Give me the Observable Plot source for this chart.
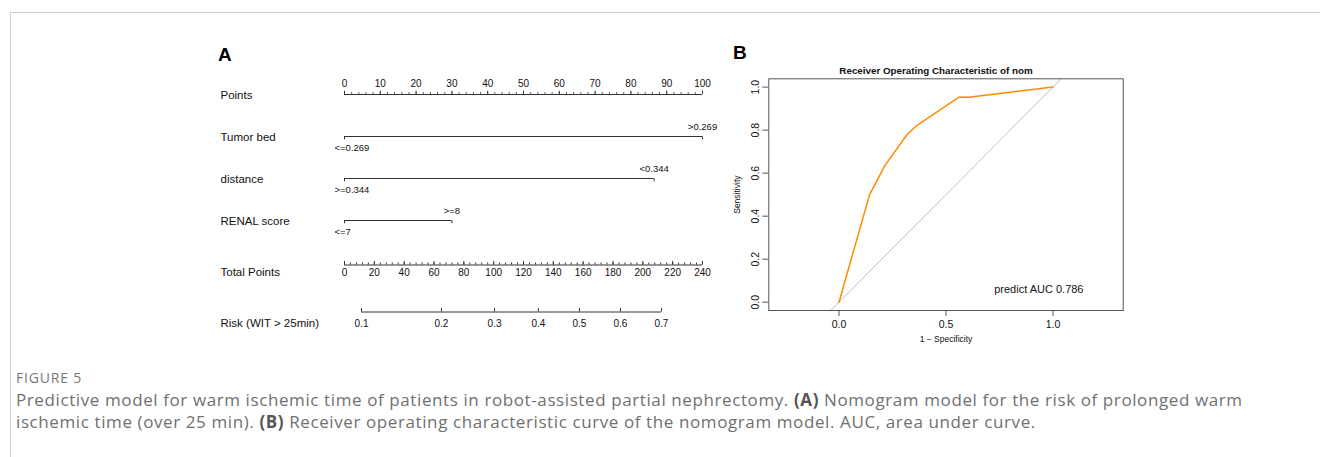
<!DOCTYPE html>
<html><head><meta charset="utf-8">
<script src="https://cdn.jsdelivr.net/npm/d3@7"></script>
<script src="https://cdn.jsdelivr.net/npm/@observablehq/plot@0.6"></script>
<style>
html,body{margin:0;padding:0;background:#fff}
body{width:1320px;height:457px;position:relative;overflow:hidden;font-family:"Liberation Sans",Arial,sans-serif}
.abs{position:absolute}
#ftop{left:10px;top:12px;width:1310px;height:1px;background:#cfcfcf}
#fleft{left:10px;top:12px;width:1px;height:445px;background:#cfcfcf}
.letter{font-weight:bold;font-size:19px;color:#000;line-height:20px}
#figlab{left:16px;top:370px;font-family:"Open Sans",sans-serif;font-size:14px;color:#777;letter-spacing:0.8px;line-height:16px}
#cap{left:16px;top:389px;font-family:"Open Sans",sans-serif;font-size:17px;color:#707070;line-height:22px;letter-spacing:0.6px;white-space:nowrap}
#cap b{color:#555}
</style></head><body>
<div id="ftop" class="abs"></div>
<div id="fleft" class="abs"></div>
<div class="abs letter" style="left:218px;top:45px">A</div>
<div class="abs letter" style="left:733px;top:43px">B</div>
<div id="a1" class="abs" style="left:200px;top:60px"></div>
<div id="a2" class="abs" style="left:200px;top:245px"></div>
<div id="b" class="abs" style="left:720px;top:55px"></div>
<div id="figlab" class="abs">FIGURE 5</div>
<div id="cap" class="abs">Predictive model for warm ischemic time of patients in robot-assisted partial nephrectomy. <b>(A)</b> Nomogram model for the risk of prolonged warm<br>ischemic time (over 25 min). <b>(B)</b> Receiver operating characteristic curve of the nomogram model. AUC, area under curve.</div>
<script>
// ---------- data ----------
const nomoRows = ["Points", "Tumor bed", "distance", "RENAL score"];
const pointTicks = [0, 10, 20, 30, 40, 50, 60, 70, 80, 90, 100];
const variables = ["Tumor bed", "distance", "RENAL score"];
const lowLevels = ["<=0.269", ">=0.344", "<=7"];
const highLevels = [">0.269", "<0.344", ">=8"];
const lowPoints = [0, 0, 0];
const highPoints = [100, 86.5, 30];
const totalRows = ["Total Points", "Risk (WIT > 25min)"];
const totalTicks = [0, 20, 40, 60, 80, 100, 120, 140, 160, 180, 200, 220, 240];
const riskLabels = ["0.1", "0.2", "0.3", "0.4", "0.5", "0.6", "0.7"];
const riskAtTotal = [11.4, 65, 100.6, 130, 157.5, 185, 212.5];
const fpr = [0, 0.143, 0.215, 0.315, 0.358, 0.561, 0.607, 1.0];
const tpr = [0, 0.5, 0.636, 0.775, 0.817, 0.953, 0.953, 1.0];
const rocYTicks = [0, 0.2, 0.4, 0.6, 0.8, 1.0];
const rocXTicks = [0, 0.5, 1.0];
const diagonal = [-0.1, 1.1];
const rocTitle = "Receiver Operating Characteristic of nom";
const aucLabel = "predict AUC 0.786";

// ---------- helpers ----------
const FONT = "Liberation Sans, Arial, sans-serif";
const INK = "#333";
const minor = (lo, hi, step) => d3.range(lo, hi + 1e-9, step);
// band scale whose band centres sit at c0 ... c1
function bandY(domain, c0, c1) {
  const bw = (c1 - c0) / (domain.length - 1);
  return {bw, scale: {type: "band", domain, range: [c0 - bw / 2, c1 + bw / 2], padding: 0, axis: null}};
}
const up = (bw, len) => ({insetTop: bw / 2 - len, insetBottom: bw / 2});
const down = (bw, len) => ({insetTop: bw / 2, insetBottom: bw / 2 - len});
const ML = 144, MR = 28;

// ---------- Panel A, part 1 ----------
const varData = variables.map((v, i) => ({v, lo: lowPoints[i], hi: highPoints[i], loL: lowLevels[i], hiL: highLevels[i]}));
const Y1 = bandY(nomoRows, 33.5, 161);
const a1 = Plot.plot({
  width: 530, height: 190, marginLeft: ML, marginRight: MR, marginTop: 0, marginBottom: 0,
  x: {domain: [pointTicks[0], pointTicks[pointTicks.length - 1]], axis: null},
  y: Y1.scale,
  style: {fontFamily: FONT, background: "transparent", color: "#111"},
  marks: [
    Plot.ruleY(["Points"], {y: d => d, x1: pointTicks[0], x2: pointTicks[pointTicks.length - 1], stroke: INK}),
    Plot.tickX(minor(0, 100, 2), {x: d => d, y: () => "Points", ...up(Y1.bw, 2), stroke: INK}),
    Plot.tickX(pointTicks, {x: d => d, y: () => "Points", ...up(Y1.bw, 3.5), stroke: INK}),
    Plot.text(pointTicks, {x: d => d, y: () => "Points", text: d => String(d), dy: -10.5, fontSize: 10}),
    Plot.ruleY(varData, {y: "v", x1: "lo", x2: "hi", stroke: INK}),
    Plot.tickX(varData, {x: "lo", y: "v", ...down(Y1.bw, 3.5), stroke: INK}),
    Plot.tickX(varData, {x: "hi", y: "v", ...down(Y1.bw, 3.5), stroke: INK}),
    Plot.text(varData, {x: "hi", y: "v", text: "hiL", dy: -10, fontSize: 9.5}),
    Plot.text(varData, {x: "lo", y: "v", text: "loL", dy: 11, dx: -10, textAnchor: "start", fontSize: 9.5}),
    Plot.text(nomoRows, {y: d => d, text: d => d, frameAnchor: "left", dx: -124, dy: 1, textAnchor: "start", fontSize: 11.5})
  ]
});
document.getElementById("a1").append(a1);

// ---------- Panel A, part 2 ----------
const riskData = riskLabels.map((r, i) => ({r, tp: riskAtTotal[i]}));
const RISK = totalRows[1], TOT = totalRows[0];
const Y2 = bandY(totalRows, 19.5, 66.5);
const a2 = Plot.plot({
  width: 530, height: 95, marginLeft: ML, marginRight: MR, marginTop: 0, marginBottom: 0,
  x: {domain: [totalTicks[0], totalTicks[totalTicks.length - 1]], axis: null},
  y: Y2.scale,
  style: {fontFamily: FONT, background: "transparent", color: "#111"},
  marks: [
    Plot.ruleY([TOT], {y: d => d, x1: totalTicks[0], x2: totalTicks[totalTicks.length - 1], stroke: INK}),
    Plot.tickX(minor(0, 240, 4), {x: d => d, y: () => TOT, ...up(Y2.bw, 2), stroke: INK}),
    Plot.tickX(totalTicks, {x: d => d, y: () => TOT, ...up(Y2.bw, 3.5), stroke: INK}),
    Plot.text(totalTicks, {x: d => d, y: () => TOT, text: d => String(d), dy: 8, fontSize: 10}),
    Plot.ruleY([RISK], {y: d => d, x1: riskAtTotal[0], x2: riskAtTotal[riskAtTotal.length - 1], stroke: INK}),
    Plot.tickX(riskData, {x: "tp", y: () => RISK, ...up(Y2.bw, 3.5), stroke: INK}),
    Plot.text(riskData, {x: "tp", y: () => RISK, text: "r", dy: 12, fontSize: 10}),
    Plot.text([TOT], {y: d => d, text: d => d, frameAnchor: "left", dx: -124, dy: 7.5, textAnchor: "start", fontSize: 11.5}),
    Plot.text([RISK], {y: d => d, text: d => d, frameAnchor: "left", dx: -124, dy: 11.5, textAnchor: "start", fontSize: 11.5})
  ]
});
document.getElementById("a2").append(a2);

// ---------- Panel B ----------
const roc = fpr.map((x, i) => ({x, y: tpr[i]}));
const b = Plot.plot({
  width: 420, height: 300, marginLeft: 48.3, marginRight: 17.3, marginTop: 23.3, marginBottom: 45,
  x: {domain: [-0.328, 1.328]},
  y: {domain: [-0.0386, 1.0386]},
  style: {fontFamily: FONT, background: "transparent", color: "#111"},
  marks: [
    Plot.line(diagonal, {x: d => d, y: d => d, stroke: "#bdbdbd", strokeWidth: 1, clip: true}),
    Plot.line(roc, {x: "x", y: "y", stroke: "#FF8C00", strokeWidth: 1.5}),
    Plot.frame({stroke: "#555"}),
    Plot.axisY(rocYTicks, {tickFormat: d => d.toFixed(1), tickRotate: -90, tickSize: 6, tickPadding: 4, textAnchor: "middle", lineAnchor: "bottom", fontSize: 10.5, label: null, stroke: "#555"}),
    Plot.axisX(rocXTicks, {tickFormat: d => d.toFixed(1), tickSize: 6, tickPadding: 4.5, fontSize: 10.5, label: null, stroke: "#555"}),
    Plot.text([rocTitle], {frameAnchor: "top", dx: -10, dy: -11.5, fontWeight: "bold", fontSize: 9.8}),
    Plot.text(["1 \u2212 Specificity"], {frameAnchor: "bottom", dy: 31, fontSize: 8.5}),
    Plot.text(["Sensitivity"], {frameAnchor: "left", dx: -31.5, rotate: -90, textAnchor: "middle", fontSize: 8.5}),
    Plot.text([aucLabel], {frameAnchor: "bottom-right", dx: -39.7, dy: -17.3, textAnchor: "end", fontSize: 11})
  ]
});
document.getElementById("b").append(b);
</script>
</body></html>
